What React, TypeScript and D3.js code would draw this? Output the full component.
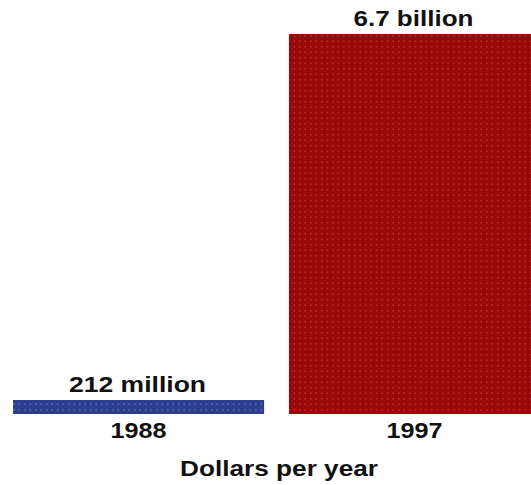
import React, { useEffect, useRef } from "react";
import * as d3 from "d3";

const years = ["1988", "1997"];
const values = [212, 6700]; // millions of dollars per year
const valueLabels = ["212 million", "6.7 billion"];
const colors = ["#2c3f8e", "#990808"];
const dotColors = ["#5e70c0", "#bb3434"];
const axisTitle = "Dollars per year";

const W = 531;
const H = 485;

export default function App() {
  const ref = useRef<SVGSVGElement | null>(null);

  useEffect(() => {
    const svg = d3.select(ref.current);
    svg.selectAll("*").remove();

    const x = d3.scaleBand<string>().domain(years).range([13, 540]).paddingInner(0.09).paddingOuter(0);
    const y = d3.scaleLinear().domain([0, 6700]).range([414, 34]);

    const defs = svg.append("defs");
    years.forEach((yr, i) => {
      const p = defs
        .append("pattern")
        .attr("id", `pat${i}`)
        .attr("patternUnits", "userSpaceOnUse")
        .attr("width", 5.5)
        .attr("height", 5.5);
      p.append("rect").attr("width", 5.5).attr("height", 5.5).attr("fill", colors[i]);
      p.append("circle").attr("cx", 2.75).attr("cy", 2.75).attr("r", 0.9).attr("fill", dotColors[i]);
    });

    const font = "'Liberation Sans', Arial, Helvetica, sans-serif";

    svg
      .selectAll("rect.bar")
      .data(values)
      .join("rect")
      .attr("class", "bar")
      .attr("x", (_, i) => x(years[i])!)
      .attr("width", x.bandwidth())
      .attr("y", (d) => Math.min(y(d), y(0) - 14))
      .attr("height", (d) => Math.max(y(0) - y(d), 14))
      .attr("fill", (_, i) => `url(#pat${i})`);

    const lblWidths = [137, 120];
    svg
      .selectAll("text.val")
      .data(values)
      .join("text")
      .attr("class", "val")
      .attr("x", (_, i) => x(years[i])! + x.bandwidth() / 2 - 1)
      .attr("y", (d) => Math.min(y(d), y(0) - 14) - 8)
      .attr("text-anchor", "middle")
      .attr("font-family", font)
      .attr("font-weight", "bold")
      .attr("font-size", 22)
      .attr("fill", "#111")
      .attr("textLength", (_, i) => lblWidths[i])
      .attr("lengthAdjust", "spacingAndGlyphs")
      .text((_, i) => valueLabels[i]);

    svg
      .selectAll("text.yr")
      .data(years)
      .join("text")
      .attr("class", "yr")
      .attr("x", (d) => x(d)! + x.bandwidth() / 2)
      .attr("y", 438)
      .attr("text-anchor", "middle")
      .attr("font-family", font)
      .attr("font-weight", "bold")
      .attr("font-size", 22)
      .attr("fill", "#111")
      .attr("textLength", 56)
      .attr("lengthAdjust", "spacingAndGlyphs")
      .text((d) => d);

    svg
      .append("text")
      .attr("x", 279)
      .attr("y", 476)
      .attr("text-anchor", "middle")
      .attr("font-family", font)
      .attr("font-weight", "bold")
      .attr("font-size", 22)
      .attr("fill", "#111")
      .attr("textLength", 198)
      .attr("lengthAdjust", "spacingAndGlyphs")
      .text(axisTitle);
  }, []);

  return (
    <svg
      ref={ref}
      width={W}
      height={H}
      style={{ position: "absolute", left: 0, top: 0, background: "#fff" }}
    />
  );
}
